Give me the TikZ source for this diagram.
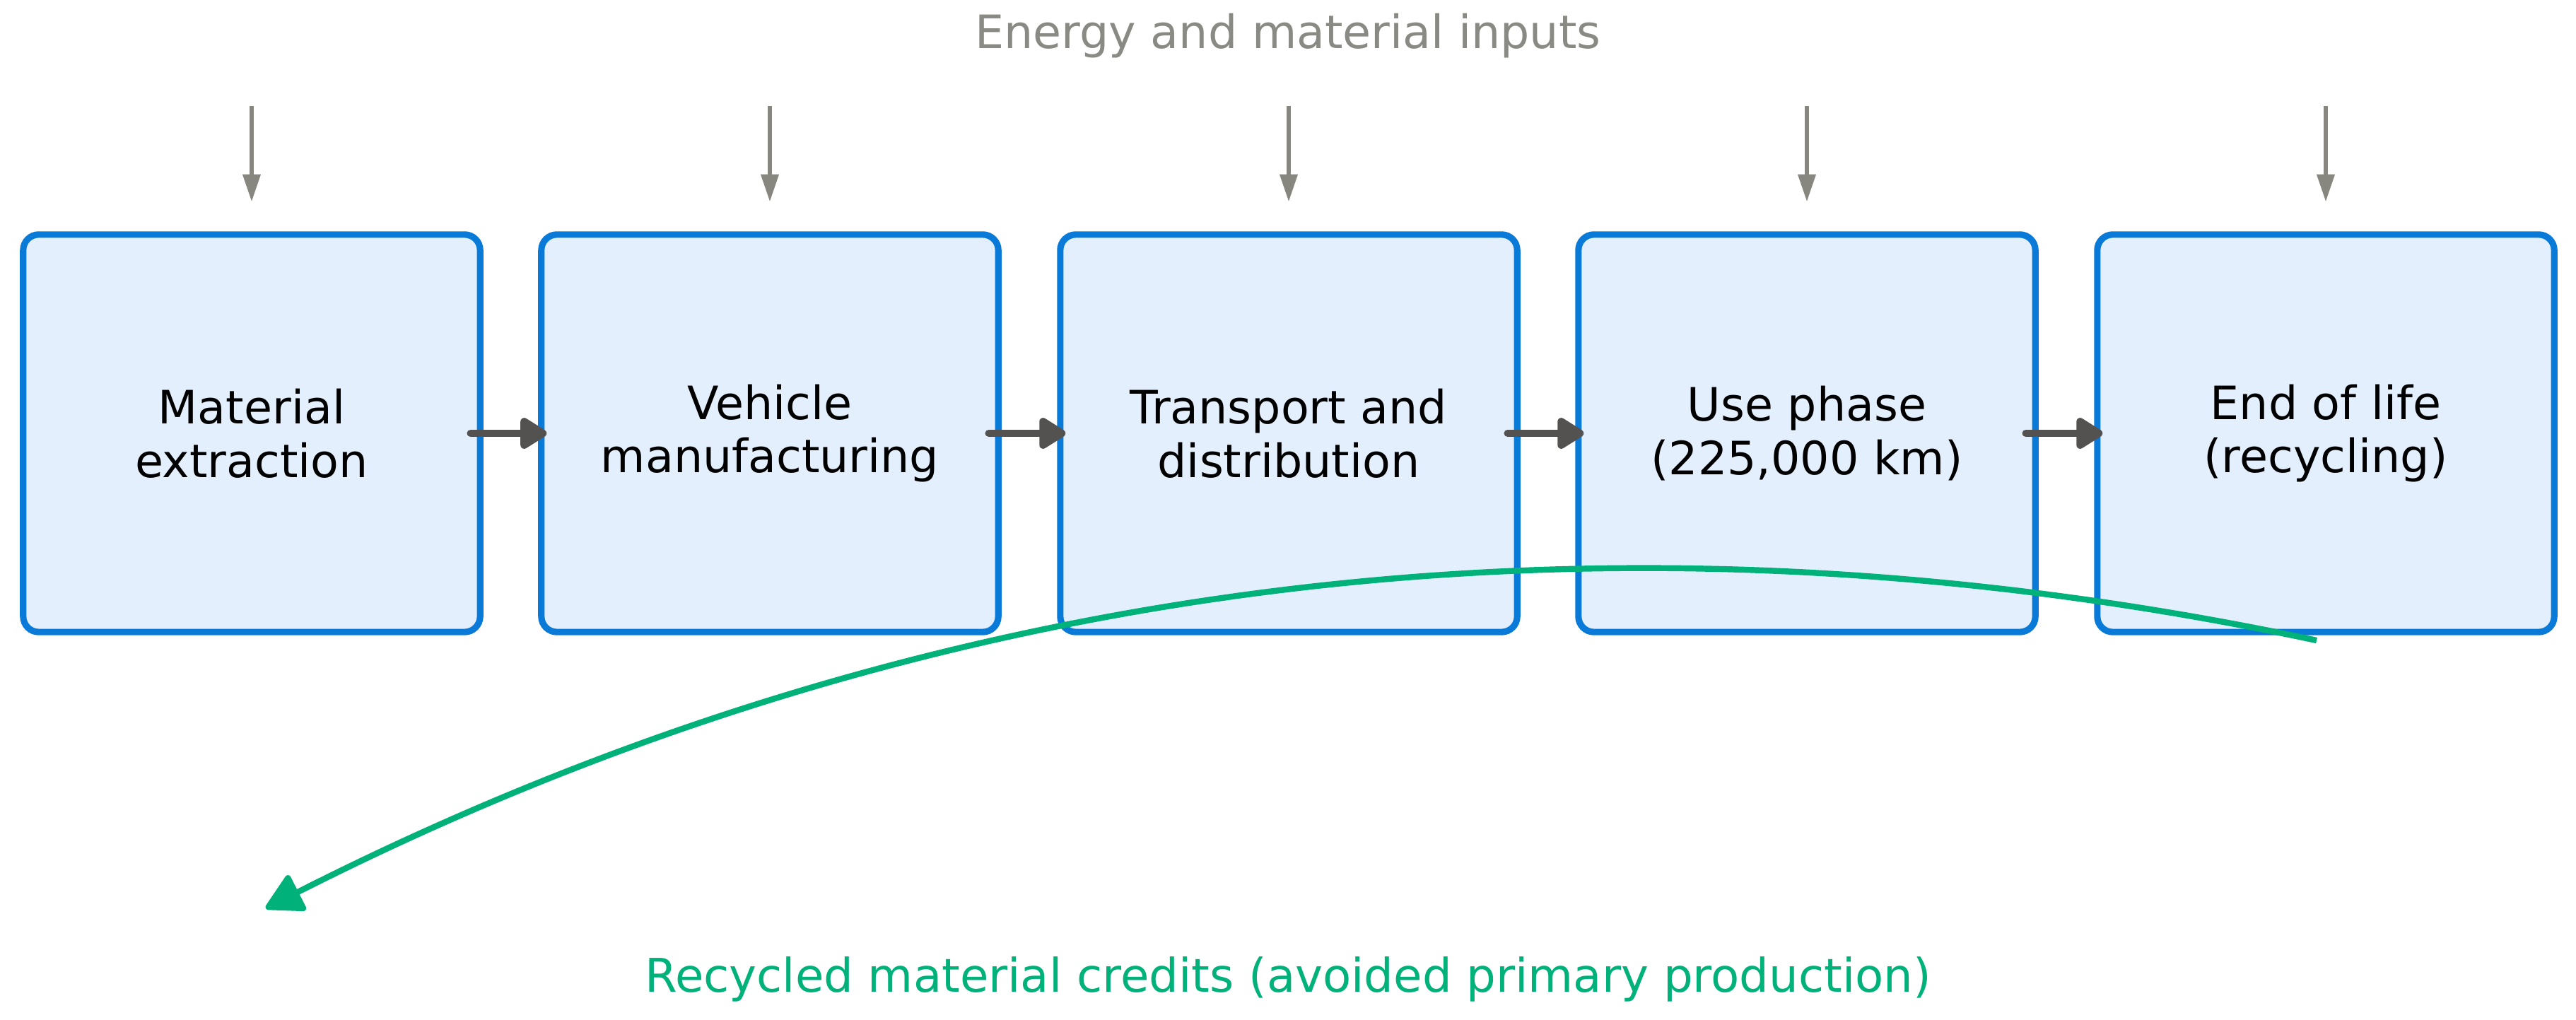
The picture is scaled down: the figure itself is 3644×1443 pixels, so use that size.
\documentclass[tikz,border=0pt]{standalone}
\usepackage{fontspec}
\setmainfont{DejaVu Sans}
\usetikzlibrary{arrows.meta}
\definecolor{boxfill}{HTML}{E3EFFC}
\definecolor{boxline}{HTML}{0A7AD9}
\definecolor{inarrow}{HTML}{87877F}
\definecolor{flowarrow}{HTML}{545250}
\definecolor{recgreen}{HTML}{00B27A}
\definecolor{titlegray}{HTML}{8A8A84}
\begin{document}
\begin{tikzpicture}[x=0.01cm,y=-0.01cm,
  stage/.style={draw=boxline, fill=boxfill, line width=2.6pt, rounded corners=0.22cm,
    minimum width=6.46cm, minimum height=5.62cm, align=center,
    font=\fontsize{18.5}{21.5}\selectfont, inner sep=0pt},
  inputarrow/.style={draw=inarrow, line width=1.5pt, -{Triangle[length=11pt,width=7pt]}},
  flow/.style={draw=flowarrow, line width=3pt, line cap=round, -{Triangle[length=12pt,width=14pt,round]}},
  recycle/.style={draw=recgreen, line width=2.4pt, -{Triangle[length=16pt,width=17pt,round]}},
  lbl/.style={font=\fontsize{18.5}{21.5}\selectfont, inner sep=0pt}]
\useasboundingbox (0,0) rectangle (3644,1443);

\node[lbl, text=titlegray] (title) at (1822,51) {Energy and material inputs};

\node[stage] (b1) at (356,613) {Material\\extraction};
\node[stage] (b2) at (1089,613) {Vehicle\\manufacturing};
\node[stage] (b3) at (1823,613) {Transport and\\distribution};
\node[stage] (b4) at (2556,613) {Use phase\\(225,000 km)};
\node[stage] (b5) at (3290,613) {End of life\\(recycling)};

\foreach \i in {1,...,5} {
  \coordinate (in\i) at ([yshift=1.77cm]b\i.north);
  \draw[inputarrow] (in\i) -- ([yshift=0.42cm]b\i.north);
}

\foreach \a/\b in {b1/b2,b2/b3,b3/b4,b4/b5} {
  \draw[flow] ([xshift=-0.18cm]\a.east) -- ([xshift=0.12cm]\b.west);
}

\coordinate (rstart) at (3277,906);
\coordinate (rend) at (376,1285);
\draw[recycle] (rstart) .. controls (2265,691) and (1298,817) .. (rend);

\node[lbl, text=recgreen, font=\fontsize{18.7}{21.5}\selectfont] (credits) at (1822,1385) {Recycled material credits (avoided primary production)};
\end{tikzpicture}
\end{document}
